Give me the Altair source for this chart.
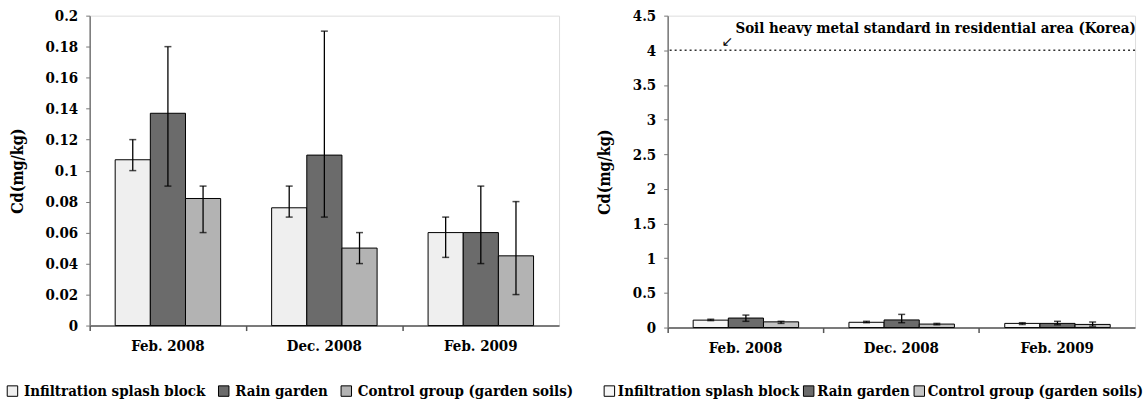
import altair as alt
import pandas as pd

dates = ["Feb. 2008", "Dec. 2008", "Feb. 2009"]
groups = ["Infiltration splash block", "Rain garden", "Control group (garden soils)"]

infiltration_mean = [0.107, 0.076, 0.060]
infiltration_lo = [0.100, 0.070, 0.044]
infiltration_hi = [0.120, 0.090, 0.070]

rain_mean = [0.137, 0.110, 0.060]
rain_lo = [0.090, 0.070, 0.040]
rain_hi = [0.180, 0.190, 0.090]

control_mean = [0.082, 0.050, 0.045]
control_lo = [0.060, 0.040, 0.020]
control_hi = [0.090, 0.060, 0.080]

standard_value = [4.0]
standard_label = ["Soil heavy metal standard in residential area (Korea)"]

rows = []
for g, m, lo, hi in [
    (groups[0], infiltration_mean, infiltration_lo, infiltration_hi),
    (groups[1], rain_mean, rain_lo, rain_hi),
    (groups[2], control_mean, control_lo, control_hi),
]:
    for d, mv, lv, hv in zip(dates, m, lo, hi):
        rows.append({"date": d, "group": g, "value": mv, "lo": lv, "hi": hv})
df = pd.DataFrame(rows)

FONT = "DejaVu Serif Condensed"


def panel(ymax, tick_count, colors, width, height, legend_x, col_pad, label_off, extra=None):
    xoff = alt.XOffset("group:N", sort=groups,
                       scale=alt.Scale(paddingInner=0, paddingOuter=0.725))
    xscale = alt.Scale(paddingInner=0, paddingOuter=0)
    x_lab = alt.X("date:N", sort=dates, scale=xscale, title=None,
                  axis=alt.Axis(labelAngle=0, ticks=False, labelPadding=13,
                                labelFont=FONT, labelFontWeight="bold",
                                labelFontSize=15, labelColor="black",
                                domainColor="#555555", domainWidth=1.5,
                                orient="bottom"))
    x_tick = alt.X("date:N", sort=dates, scale=xscale, title=None,
                   axis=alt.Axis(labels=False, ticks=True, bandPosition=0,
                                 tickSize=5, tickColor="#555555", tickWidth=1.5,
                                 domain=False, orient="bottom"))
    x_none = alt.X("date:N", sort=dates, scale=xscale, axis=None)
    y = alt.Y("value:Q", scale=alt.Scale(domain=[0, ymax], nice=False),
              axis=alt.Axis(title="Cd(mg/kg)", tickCount=tick_count, format="~g",
                            grid=False, labelFont=FONT, labelFontWeight="bold",
                            labelFontSize=15, labelColor="black", labelPadding=8,
                            tickSize=4, tickColor="#777777", domainColor="#777777",
                            domainWidth=1.5, titleFont=FONT, titleFontWeight="bold",
                            titleFontSize=16, titleColor="black", titlePadding=20))
    bars = alt.Chart(df).mark_bar(stroke="black", strokeWidth=1).encode(
        x=x_lab, xOffset=xoff, y=y,
        color=alt.Color("group:N", sort=groups,
                        scale=alt.Scale(domain=groups, range=colors),
                        legend=alt.Legend(title=None, orient="none", legendX=legend_x,
                                          legendY=369, direction="horizontal",
                                          symbolType="square", symbolSize=110,
                                          symbolStrokeColor="black",
                                          symbolStrokeWidth=1,
                                          labelFont=FONT, labelFontWeight="bold",
                                          labelFontSize=15,
                                          labelColor="black",
                                          columnPadding=col_pad, labelOffset=label_off,
                                          labelLimit=400)),
    )
    err = alt.Chart(df).mark_rule(color="black", strokeWidth=1.3).encode(
        x=x_tick, xOffset=xoff, y="lo:Q", y2="hi:Q")
    cap_lo = alt.Chart(df).mark_tick(orient="horizontal", size=7, thickness=1.5,
                                     color="black").encode(
        x=x_none, xOffset=xoff, y="lo:Q")
    cap_hi = alt.Chart(df).mark_tick(orient="horizontal", size=7, thickness=1.5,
                                     color="black").encode(
        x=x_none, xOffset=xoff, y="hi:Q")
    layers = [bars, err, cap_lo, cap_hi]
    if extra:
        layers += extra
    return alt.layer(*layers).resolve_axis(x="independent").properties(
        width=width, height=height)


std_df = pd.DataFrame({"v": standard_value, "label": standard_label})
std_rule = alt.Chart(std_df).mark_rule(strokeDash=[2, 3], strokeWidth=1.6,
                                       color="#333333").encode(y="v:Q")
std_text = alt.Chart(std_df).mark_text(align="left", baseline="middle", dy=-22,
                                       font=FONT, fontWeight="bold", fontSize=15,
                                       color="black").encode(
    x=alt.value(68), y="v:Q", text="label:N")
std_arrow = alt.Chart(std_df).mark_text(align="center", baseline="middle", dy=-8,
                                        font="DejaVu Sans", fontSize=14,
                                        color="black").encode(
    x=alt.value(60), y="v:Q", text=alt.value("↙"))

left = panel(0.2, 10, ["#efefef", "#6b6b6b", "#b3b3b3"], 471, 311, -85, 10, 4)
right = panel(4.5, 9, ["#f6f6f6", "#6b6b6b", "#c4c4c4"], 469, 313, -66, 1, 1,
              extra=[std_rule, std_text, std_arrow])

chart = alt.hconcat(left, right, spacing=109, bounds="flush").resolve_scale(
    color="independent").resolve_legend(color="independent").properties(
    padding={"left": 4, "top": 7, "right": 0, "bottom": 0}
).configure_view(strokeWidth=0).configure(background="white")

chart.save("out.html", embed_options={"renderer": "svg", "actions": False})
